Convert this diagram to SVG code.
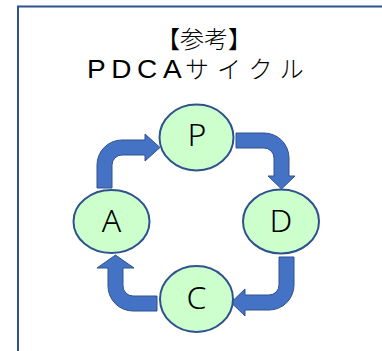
<svg xmlns="http://www.w3.org/2000/svg" width="382" height="351" viewBox="0 0 382 351">
  <style>
    .frame { fill: #FFFFFF; stroke: #2F528F; stroke-width: 2; }
    .title { font-family: "Noto Sans CJK JP", "Noto Sans", sans-serif; font-size: 24px; font-weight: 200; fill: #000000; }
    .latin { font-family: "Liberation Sans", "Noto Sans", sans-serif; font-size: 25px; font-weight: 400; }
    .node ellipse { fill: #CCFFCC; stroke: #2F528F; stroke-width: 2; }
    .node text { font-family: "Noto Sans", "Liberation Sans", sans-serif; font-size: 32px; font-weight: 300; fill: #000000; text-anchor: middle; }
    .arrow { fill: #4472C4; stroke: #2F528F; stroke-width: 1; stroke-linejoin: miter; }
  </style>

  <!-- outer frame, running past the right and bottom edges -->
  <rect class="frame" x="18" y="6.5" width="380" height="360"/>

  <!-- heading -->
  <text class="title" x="156" y="48">【参考】</text>
  <!-- wide Latin letters, slightly stretched horizontally -->
  <text class="title latin" x="0" y="78" letter-spacing="5" transform="translate(87,0) scale(1.12,1)">PDCA</text>
  <text class="title" x="185" y="78" letter-spacing="8">サイクル</text>

  <!-- bent arrows between the four steps -->
  <g id="connectors">
    <!-- A to P -->
    <path class="arrow" d="M97,188 V165 A25,25 0 0 1 122,140 H145 V134 L160,147.5 L145,161 V155 H122 A10,10 0 0 0 112,165 V188 Z"/>
    <!-- P to D -->
    <path class="arrow" d="M236,133 H264 A25,25 0 0 1 289,158 V176 H295 L281.5,189 L268,176 H274 V158 A10,10 0 0 0 264,148 H236 Z"/>
    <!-- D to C -->
    <path class="arrow" d="M294,257 V285 A25,25 0 0 1 269,310 H245 V316 L231,302.5 L245,289 V295 H269 A10,10 0 0 0 279,285 V257 Z"/>
    <!-- C to A -->
    <path class="arrow" d="M157,311 H133 A25,25 0 0 1 108,286 V268 H97 L115.5,255 L134,268 H123 V286 A10,10 0 0 0 133,296 H157 Z"/>
  </g>

  <g id="node-P" class="node">
    <ellipse cx="196.5" cy="137.5" rx="37" ry="33"/>
    <text x="197" y="146">P</text>
  </g>
  <g id="node-D" class="node">
    <ellipse cx="281" cy="221.5" rx="38" ry="32"/>
    <text x="281" y="232">D</text>
  </g>
  <g id="node-C" class="node">
    <ellipse cx="196.5" cy="299" rx="36.5" ry="33"/>
    <text x="196.5" y="309">C</text>
  </g>
  <g id="node-A" class="node">
    <ellipse cx="111.5" cy="221.5" rx="38" ry="31.5"/>
    <text x="111.5" y="232">A</text>
  </g>
</svg>
